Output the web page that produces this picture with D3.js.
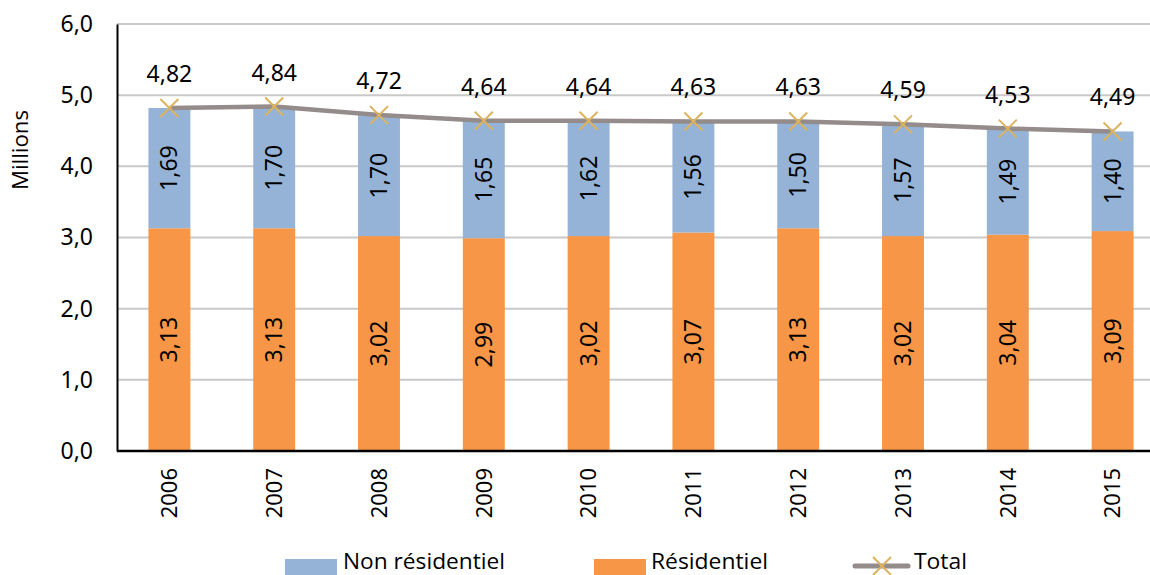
<!DOCTYPE html>
<html><head><meta charset="utf-8">
<script src="https://cdn.jsdelivr.net/npm/d3@7"></script>
<style>body{margin:0;background:#fff;}</style>
</head><body>
<svg id="c" width="1150" height="575"></svg>
<script>
const years = ["2006","2007","2008","2009","2010","2011","2012","2013","2014","2015"];
const residentiel = [3.13,3.13,3.02,2.99,3.02,3.07,3.13,3.02,3.04,3.09];
const nonResidentiel = [1.69,1.70,1.70,1.65,1.62,1.56,1.50,1.57,1.49,1.40];
const total = [4.82,4.84,4.72,4.64,4.64,4.63,4.63,4.59,4.53,4.49];
const yTicks = [0,1,2,3,4,5,6];

const fmt = v => v.toFixed(2).replace(".", ",");
const fmt1 = v => v.toFixed(1).replace(".", ",");
const F = "'Noto Sans', 'DejaVu Sans', sans-serif";
const LF = "'Open Sans', sans-serif";
const cBlue = "#95b3d7", cOrange = "#f79646", cLine = "#948b8b", cMark = "#dcb35e";

const svg = d3.select("#c");
const L = 117, R = 1165, T = 24, B = 451;
const x = d3.scaleBand().domain(years).range([L, R]).paddingInner(0.6).paddingOuter(0.3);
const y = d3.scaleLinear().domain([0, 6]).range([B, T]);

// gridlines
svg.append("g").selectAll("line").data(yTicks.filter(d => d > 0)).join("line")
  .attr("x1", L).attr("x2", R).attr("y1", d => y(d)).attr("y2", d => y(d))
  .attr("stroke", "#c9c9c9").attr("stroke-width", 2);

// y axis
const yAxis = d3.axisLeft(y).tickValues(yTicks).tickFormat(fmt1).tickSize(0).tickPadding(24);
const gy = svg.append("g").attr("transform", `translate(${L},0)`).call(yAxis);
gy.select(".domain").attr("stroke", "#000").attr("stroke-width", 2);
gy.selectAll("text").attr("font-family", F).attr("font-size", 23).attr("fill", "#000");

svg.append("text").attr("transform", `translate(28,150) rotate(-90)`)
  .attr("text-anchor", "middle").attr("font-family", LF).attr("font-size", 21)
  .attr("textLength", 80).attr("lengthAdjust", "spacingAndGlyphs").text("Millions");

// bars
const data = years.map((yr, i) => ({yr, r: residentiel[i], n: nonResidentiel[i], t: total[i]}));
svg.append("g").selectAll("rect").data(data).join("rect")
  .attr("x", d => x(d.yr)).attr("width", x.bandwidth())
  .attr("y", d => y(d.r)).attr("height", d => B - y(d.r)).attr("fill", cOrange);
svg.append("g").selectAll("rect").data(data).join("rect")
  .attr("x", d => x(d.yr)).attr("width", x.bandwidth())
  .attr("y", d => y(d.r + d.n)).attr("height", d => y(d.r) - y(d.r + d.n)).attr("fill", cBlue);

// x axis
const xAxis = d3.axisBottom(x).tickSize(0).tickPadding(0);
const gx = svg.append("g").attr("transform", `translate(0,${B})`).call(xAxis);
gx.select(".domain").attr("stroke", "#000").attr("stroke-width", 2.5).attr("d", `M${L},0H${R}`);
gx.selectAll("text").attr("font-family", F).attr("font-size", 22).attr("fill", "#000")
  .attr("text-anchor", "end").attr("dy", "0.35em")
  .attr("transform", "translate(0,17) rotate(-90)").attr("x", 0).attr("y", 0);

// inside labels
const cx = d => x(d.yr) + x.bandwidth() / 2;
svg.append("g").selectAll("text").data(data).join("text")
  .attr("transform", d => `translate(${cx(d)},${(y(0) + y(d.r)) / 2}) rotate(-90)`)
  .attr("text-anchor", "middle").attr("dy", "0.35em")
  .attr("font-family", F).attr("font-size", 23).text(d => fmt(d.r));
svg.append("g").selectAll("text").data(data).join("text")
  .attr("transform", d => `translate(${cx(d)},${(y(d.r) + y(d.r + d.n)) / 2}) rotate(-90)`)
  .attr("text-anchor", "middle").attr("dy", "0.35em")
  .attr("font-family", F).attr("font-size", 23).text(d => fmt(d.n));

// total line
const line = d3.line().x(cx).y(d => y(d.t));
svg.append("path").datum(data).attr("d", line).attr("fill", "none")
  .attr("stroke", cLine).attr("stroke-width", 4.5).attr("stroke-linejoin", "round");
const s = 9;
svg.append("g").selectAll("path").data(data).join("path")
  .attr("d", d => `M${cx(d)-s},${y(d.t)-s}L${cx(d)+s},${y(d.t)+s}M${cx(d)-s},${y(d.t)+s}L${cx(d)+s},${y(d.t)-s}`)
  .attr("stroke", cMark).attr("stroke-width", 2);
svg.append("g").selectAll("text").data(data).join("text")
  .attr("x", cx).attr("y", d => y(d.t) - 26).attr("text-anchor", "middle")
  .attr("font-family", F).attr("font-size", 23).text(d => fmt(d.t));

// legend
const ly = 569;
const lg = svg.append("g");
lg.append("rect").attr("x", 285).attr("y", 559).attr("width", 52).attr("height", 16).attr("fill", cBlue);
lg.append("text").attr("x", 343).attr("y", ly).attr("font-family", LF).attr("font-size", 21)
  .attr("textLength", 162).attr("lengthAdjust", "spacingAndGlyphs").text("Non résidentiel");
lg.append("rect").attr("x", 594).attr("y", 559).attr("width", 52).attr("height", 16).attr("fill", cOrange);
lg.append("text").attr("x", 651).attr("y", ly).attr("font-family", LF).attr("font-size", 21)
  .attr("textLength", 117).attr("lengthAdjust", "spacingAndGlyphs").text("Résidentiel");
lg.append("line").attr("x1", 855).attr("x2", 908).attr("y1", 566).attr("y2", 566)
  .attr("stroke", cLine).attr("stroke-width", 5).attr("stroke-linecap", "round");
lg.append("path").attr("d", `M${882-s},${566-s}L${882+s},${566+s}M${882-s},${566+s}L${882+s},${566-s}`)
  .attr("stroke", cMark).attr("stroke-width", 2);
lg.append("text").attr("x", 914).attr("y", ly).attr("font-family", LF).attr("font-size", 21)
  .attr("textLength", 53).attr("lengthAdjust", "spacingAndGlyphs").text("Total");
</script>
</body></html>
